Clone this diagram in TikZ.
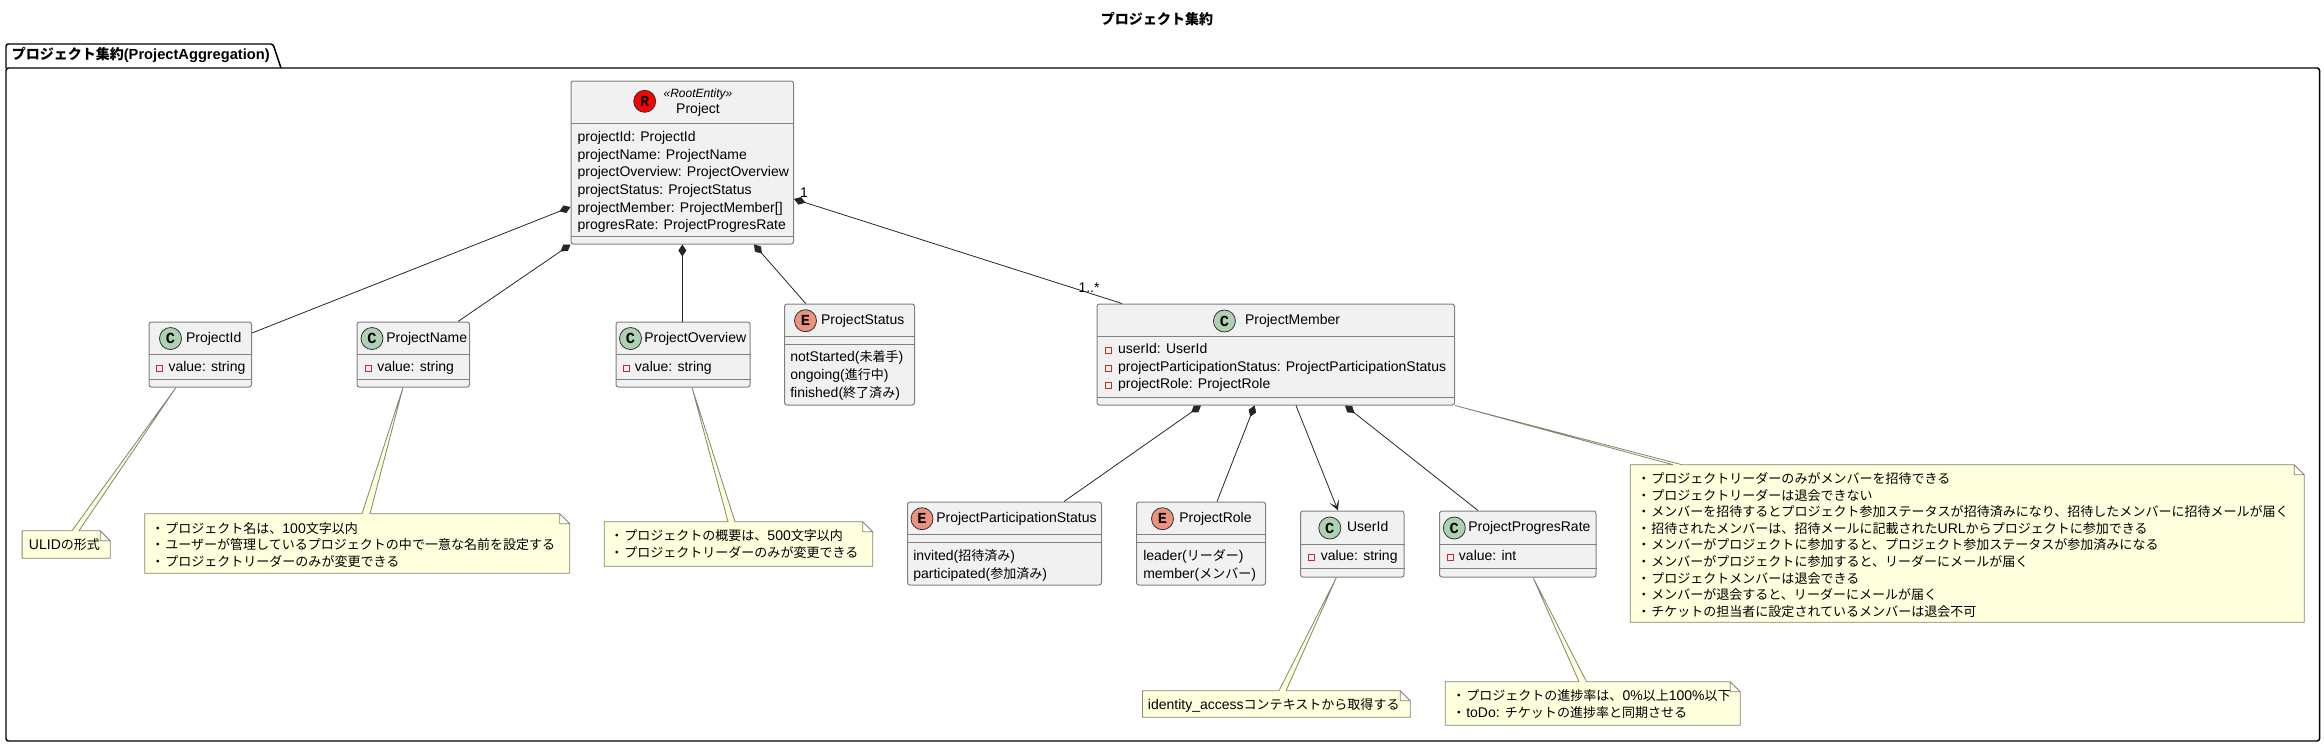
\documentclass[tikz,border=0pt]{standalone}
\usepackage{fontspec}
\setmainfont{Liberation Sans}
\setmonofont{Liberation Mono}
\newfontfamily\jp[Scale=0.93]{Noto Sans CJK JP}
\usetikzlibrary{arrows.meta}
\definecolor{boxfill}{HTML}{F1F1F1}
\definecolor{boxline}{HTML}{808080}
\definecolor{notefill}{HTML}{FEFFDD}
\definecolor{noteline}{HTML}{85856F}
\definecolor{spotclass}{HTML}{ADD1B2}
\definecolor{spotenum}{HTML}{EB937F}
\definecolor{privred}{HTML}{C82829}
\newcommand{\bul}{\makebox[7.5pt][l]{\kern-3pt\jp ・}}

\begin{document}
\begin{tikzpicture}[x=0.75pt, y=-0.75pt,
    wh/.style 2 args={minimum width=#1*0.75pt, minimum height=#2*0.75pt},
    classbox/.style={draw=boxline, fill=boxfill, line width=0.75pt, rounded corners=1.8pt, inner sep=0pt},
    sepline/.style={draw=boxline, line width=0.75pt},
    spot/.style={circle, draw=black!80, line width=0.6pt, minimum size=16.5pt, inner sep=0pt, font=\ttfamily\bfseries\fontsize{11.5}{12}\selectfont},
    titletext/.style={anchor=west, inner sep=0pt, text height=7.5pt, text depth=2.5pt, font=\fontsize{10.5}{12}\selectfont},
    rowtext/.style={anchor=west, inner sep=0pt, align=left, font=\fontsize{10.5}{13.2}\selectfont},
    notetext/.style={anchor=west, inner sep=0pt, align=left, font=\fontsize{10.5}{12.4}\selectfont},
    privmark/.style={draw=privred, line width=0.6pt, minimum size=4.6pt, inner sep=0pt},
    notebox/.style={inner sep=0pt},
    noteshape/.style={draw=noteline, fill=notefill, line width=0.6pt, line join=bevel},
    compo/.style={{Diamond[length=9pt,width=6pt]}-, draw=black!85, line width=0.6pt},
    usesarrow/.style={-{Stealth[length=7.5pt,width=7.5pt,inset=4pt]}, draw=black!85, line width=0.6pt}]
    \useasboundingbox (0,0) rectangle (2324,747);

    % Title and package
    \node[titletext, anchor=center, font=\jp\bfseries\fontsize{11.3}{12}\selectfont] (diagramtitle) at (1157,21) {プロジェクト集約};
    \draw[line width=1.1pt, rounded corners=1.8pt] (6,68) -- (6,44) -- (273,44) -- (281,68);
    \draw[line width=1.1pt, rounded corners=1.8pt] (6,68) rectangle (2319.5,741);
    \node[titletext, font=\bfseries\fontsize{11}{12}\selectfont] (packagetitle) at (11.5,56) {{\jp\fontsize{11.3}{12}\selectfont プロジェクト集約}(ProjectAggregation)};

    % Project
    \node[classbox, wh={222.5}{163}] (project) at (682.25,162.5) {};
    \draw[sepline] (project.west |- 0,123) -- (project.east |- 0,123);
    \draw[sepline] (project.west |- 0,236) -- (project.east |- 0,236);
    \node[spot, fill=red] (projectspot) at (644.7,101.3) {R};
    \node[titletext, anchor=center, font=\itshape\fontsize{9}{11}\selectfont] (projectstereo) at (698,93.7) {«RootEntity»};
    \node[titletext, anchor=center] (projecttitle) at (698,110) {Project};
    \node[rowtext] (projectattrs) at (577.3,182) {projectId: ProjectId\\projectName: ProjectName\\projectOverview: ProjectOverview\\projectStatus: ProjectStatus\\projectMember: ProjectMember[]\\progresRate: ProjectProgresRate};

    % ProjectId
    \node[classbox, wh={102.5}{65}] (projectid) at (200.25,354.5) {};
    \draw[sepline] (projectid.west |- 0,354) -- (projectid.east |- 0,354);
    \draw[sepline] (projectid.west |- 0,379) -- (projectid.east |- 0,379);
    \node[spot, fill=spotclass] (projectidspot) at (170.5,338.5) {C};
    \node[titletext] (projectidtitle) at (185.8,339) {ProjectId};
    \node[privmark] (projectidmark) at (159.3,368) {};
    \node[titletext] (projectidattr) at (168.3,368) {value: string};

    % ProjectName
    \node[classbox, wh={112.5}{65}] (projectname) at (413.25,354.5) {};
    \draw[sepline] (projectname.west |- 0,354) -- (projectname.east |- 0,354);
    \draw[sepline] (projectname.west |- 0,379) -- (projectname.east |- 0,379);
    \node[spot, fill=spotclass] (projectnamespot) at (372,338.5) {C};
    \node[titletext] (projectnametitle) at (386,339) {ProjectName};
    \node[privmark] (projectnamemark) at (368.4,368) {};
    \node[titletext] (projectnameattr) at (377,368) {value: string};

    % ProjectOverview
    \node[classbox, wh={134}{65}] (projectoverview) at (683,354.5) {};
    \draw[sepline] (projectoverview.west |- 0,354) -- (projectoverview.east |- 0,354);
    \draw[sepline] (projectoverview.west |- 0,379) -- (projectoverview.east |- 0,379);
    \node[spot, fill=spotclass] (projectoverviewspot) at (630.5,338.5) {C};
    \node[titletext] (projectoverviewtitle) at (644,339) {ProjectOverview};
    \node[privmark] (projectoverviewmark) at (626,368) {};
    \node[titletext] (projectoverviewattr) at (634.7,368) {value: string};

    % ProjectStatus
    \node[classbox, wh={130}{101}] (projectstatus) at (849.5,354.5) {};
    \draw[sepline] (projectstatus.west |- 0,336) -- (projectstatus.east |- 0,336);
    \draw[sepline] (projectstatus.west |- 0,344) -- (projectstatus.east |- 0,344);
    \node[spot, fill=spotenum] (projectstatusspot) at (805.5,320.7) {E};
    \node[titletext] (projectstatustitle) at (820.8,321) {ProjectStatus};
    \node[rowtext] (projectstatusitems) at (790,375.5) {notStarted({\jp 未着手})\\ongoing({\jp 進行中})\\finished({\jp 終了済み})};

    % ProjectMember
    \node[classbox, wh={357.5}{101}] (projectmember) at (1275.75,354.5) {};
    \draw[sepline] (projectmember.west |- 0,336) -- (projectmember.east |- 0,336);
    \draw[sepline] (projectmember.west |- 0,397) -- (projectmember.east |- 0,397);
    \node[spot, fill=spotclass] (projectmemberspot) at (1224.4,321) {C};
    \node[titletext] (projectmembertitle) at (1244.8,321) {ProjectMember};
    \node[privmark] (memberuseridmark) at (1108.6,350) {};
    \node[privmark] (memberstatusmark) at (1108.6,368) {};
    \node[privmark] (memberrolemark) at (1108.6,385) {};
    \node[rowtext] (projectmemberattrs) at (1117.8,367.5) {userId: UserId\\projectParticipationStatus: ProjectParticipationStatus\\projectRole: ProjectRole};

    % ProjectParticipationStatus
    \node[classbox, wh={194}{83}] (participationstatus) at (1004.5,543.5) {};
    \draw[sepline] (participationstatus.west |- 0,534) -- (participationstatus.east |- 0,534);
    \draw[sepline] (participationstatus.west |- 0,542) -- (participationstatus.east |- 0,542);
    \node[spot, fill=spotenum] (participationstatusspot) at (922,518.7) {E};
    \node[titletext] (participationstatustitle) at (936,519) {ProjectParticipationStatus};
    \node[rowtext] (participationstatusitems) at (913,565.4) {invited({\jp 招待済み})\\participated({\jp 参加済み})};

    % ProjectRole
    \node[classbox, wh={129}{83}] (projectrole) at (1201,543.5) {};
    \draw[sepline] (projectrole.west |- 0,534) -- (projectrole.east |- 0,534);
    \draw[sepline] (projectrole.west |- 0,542) -- (projectrole.east |- 0,542);
    \node[spot, fill=spotenum] (projectrolespot) at (1162.5,518.7) {E};
    \node[titletext] (projectroletitle) at (1179,519) {ProjectRole};
    \node[rowtext] (projectroleitems) at (1143,565.4) {leader({\jp リーダー})\\member({\jp メンバー})};

    % UserId
    \node[classbox, wh={103.5}{66}] (userid) at (1352.25,544) {};
    \draw[sepline] (userid.west |- 0,544) -- (userid.east |- 0,544);
    \draw[sepline] (userid.west |- 0,568) -- (userid.east |- 0,568);
    \node[spot, fill=spotclass] (useridspot) at (1329.8,528) {C};
    \node[titletext] (useridtitle) at (1346.8,528) {UserId};
    \node[privmark] (useridmark) at (1311,557) {};
    \node[titletext] (useridattr) at (1320.5,557) {value: string};

    % ProjectProgresRate
    \node[classbox, wh={156.5}{66}] (progresrate) at (1517.75,544) {};
    \draw[sepline] (progresrate.west |- 0,544) -- (progresrate.east |- 0,544);
    \draw[sepline] (progresrate.west |- 0,568) -- (progresrate.east |- 0,568);
    \node[spot, fill=spotclass] (progresratespot) at (1454.3,528) {C};
    \node[titletext] (progresratetitle) at (1468,528) {ProjectProgresRate};
    \node[privmark] (progresratemark) at (1450.5,557) {};
    \node[titletext] (progresrateattr) at (1458.7,557) {value: int};

    % Composition lines
    \draw[compo] (project.west |- 0,207) -- (projectid.east |- 0,333);
    \draw[compo] (project.south west) -- (projectname.north -| 458,0);
    \draw[compo] (project.south -| 682.4,0) -- (projectoverview.north -| 682.4,0);
    \draw[compo] (project.south -| 754,0) -- (projectstatus.north -| 805.7,0);
    \draw[compo] (project.east |- 0,199) -- (projectmember.north -| 1122,0);
    \draw[compo] (projectmember.south -| 1201,0) -- (participationstatus.north -| 1064,0);
    \draw[compo] (projectmember.south -| 1254.6,0) -- (projectrole.north -| 1217,0);
    \draw[usesarrow] (projectmember.south -| 1296,0) -- (userid.north -| 1338,0);
    \draw[compo] (projectmember.south -| 1345,0) -- (progresrate.north -| 1478,0);
    \node[titletext, anchor=center] (multone) at (804,194) {1};
    \node[titletext, anchor=center] (multmany) at (1089,289) {1..*};

    % Notes
    \node[notebox, wh={87.6}{27}] (noteulid) at (66.2,544.5) {};
    \draw[noteshape] (noteulid.north west) -- (noteulid.north -| 72,0) -- (projectid.south -| 176,0) -- (noteulid.north -| 79,0) -- ([xshift=-7.5pt]noteulid.north east) -- ([yshift=-7.5pt]noteulid.north east) -- (noteulid.south east) -- (noteulid.south west) -- cycle ([xshift=-7.5pt]noteulid.north east) |- ([yshift=-7.5pt]noteulid.north east);
    \node[notetext] (noteulidtext) at (28.7,545) {ULID{\jp の形式}};

    \node[notebox, wh={424.5}{59}] (notename) at (357.25,543.5) {};
    \draw[noteshape] (notename.north west) -- (notename.north -| 362,0) -- (projectname.south -| 403,0) -- (notename.north -| 370,0) -- ([xshift=-7.5pt]notename.north east) -- ([yshift=-7.5pt]notename.north east) -- (notename.south east) -- (notename.south west) -- cycle ([xshift=-7.5pt]notename.north east) |- ([yshift=-7.5pt]notename.north east);
    \node[notetext] (notenametext) at (155,545) {\bul{\jp プロジェクト名は、}100{\jp 文字以内}\\\bul{\jp ユーザーが管理しているプロジェクトの中で一意な名前を設定する}\\\bul{\jp プロジェクトリーダーのみが変更できる}};

    \node[notebox, wh={268}{44}] (noteoverview) at (738.5,544) {};
    \draw[noteshape] (noteoverview.north west) -- (noteoverview.north -| 728,0) -- (projectoverview.south -| 692,0) -- (noteoverview.north -| 735,0) -- ([xshift=-7.5pt]noteoverview.north east) -- ([yshift=-7.5pt]noteoverview.north east) -- (noteoverview.south east) -- (noteoverview.south west) -- cycle ([xshift=-7.5pt]noteoverview.north east) |- ([yshift=-7.5pt]noteoverview.north east);
    \node[notetext] (noteoverviewtext) at (614,544) {\bul{\jp プロジェクトの概要は、}500{\jp 文字以内}\\\bul{\jp プロジェクトリーダーのみが変更できる}};

    \node[notebox, wh={267.3}{26}] (noteuserid) at (1276.35,704) {};
    \draw[noteshape] (noteuserid.north west) -- (noteuserid.north -| 1279,0) -- (userid.south -| 1336.4,0) -- (noteuserid.north -| 1286,0) -- ([xshift=-7.5pt]noteuserid.north east) -- ([yshift=-7.5pt]noteuserid.north east) -- (noteuserid.south east) -- (noteuserid.south west) -- cycle ([xshift=-7.5pt]noteuserid.north east) |- ([yshift=-7.5pt]noteuserid.north east);
    \node[notetext] (noteuseridtext) at (1147.7,705) {identity\_access{\jp コンテキストから取得する}};

    \node[notebox, wh={294.5}{43}] (noterate) at (1592.75,703.5) {};
    \draw[noteshape] (noterate.north west) -- (noterate.north -| 1579,0) -- (progresrate.south -| 1533,0) -- (noterate.north -| 1586.5,0) -- ([xshift=-7.5pt]noterate.north east) -- ([yshift=-7.5pt]noterate.north east) -- (noterate.south east) -- (noterate.south west) -- cycle ([xshift=-7.5pt]noterate.north east) |- ([yshift=-7.5pt]noterate.north east);
    \node[notetext] (noteratetext) at (1456,704) {\bul{\jp プロジェクトの進捗率は、}0\%{\jp 以上}100\%{\jp 以下}\\\bul{}toDo: {\jp チケットの進捗率と同期させる}};

    \node[notebox, wh={673.5}{157}] (notemember) at (1967.25,543.5) {};
    \draw[noteshape] (notemember.north west) -- (notemember.north -| 1673,0) -- (projectmember.south east) -- (notemember.north -| 1682,0) -- ([xshift=-7.5pt]notemember.north east) -- ([yshift=-7.5pt]notemember.north east) -- (notemember.south east) -- (notemember.south west) -- cycle ([xshift=-7.5pt]notemember.north east) |- ([yshift=-7.5pt]notemember.north east);
    \node[notetext] (notemembertext) at (1641,545) {\bul{\jp プロジェクトリーダーのみがメンバーを招待できる}\\\bul{\jp プロジェクトリーダーは退会できない}\\\bul{\jp メンバーを招待するとプロジェクト参加ステータスが招待済みになり、招待したメンバーに招待メールが届く}\\\bul{\jp 招待されたメンバーは、招待メールに記載された}URL{\jp からプロジェクトに参加できる}\\\bul{\jp メンバーがプロジェクトに参加すると、プロジェクト参加ステータスが参加済みになる}\\\bul{\jp メンバーがプロジェクトに参加すると、リーダーにメールが届く}\\\bul{\jp プロジェクトメンバーは退会できる}\\\bul{\jp メンバーが退会すると、リーダーにメールが届く}\\\bul{\jp チケットの担当者に設定されているメンバーは退会不可}};
\end{tikzpicture}
\end{document}
